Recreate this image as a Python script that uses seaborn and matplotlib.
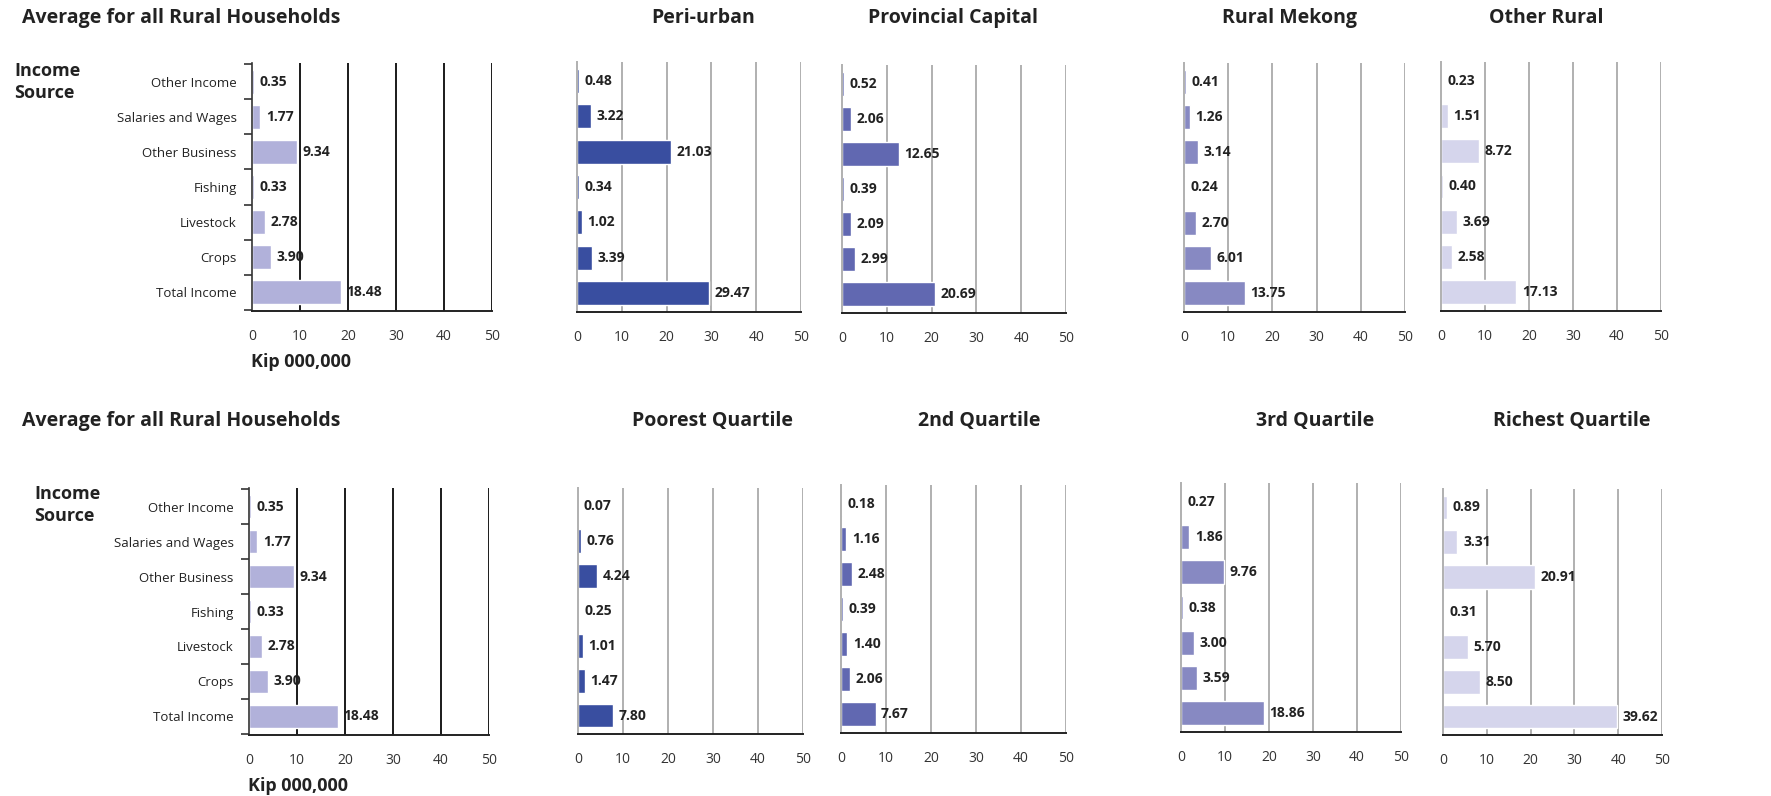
import numpy as np
import pandas as pd
import matplotlib
matplotlib.use("Agg")
import matplotlib.pyplot as plt
import seaborn as sns

# ---------------------------------------------------------
# DATA
# ---------------------------------------------------------
sources = ["Other Income", "Salaries and Wages", "Other Business", "Fishing",
           "Livestock", "Crops", "Total Income"]

avg_rural = [0.35, 1.77, 9.34, 0.33, 2.78, 3.90, 18.48]

peri_urban = [0.48, 3.22, 21.03, 0.34, 1.02, 3.39, 29.47]
prov_capital = [0.52, 2.06, 12.65, 0.39, 2.09, 2.99, 20.69]
rural_mekong = [0.41, 1.26, 3.14, 0.24, 2.70, 6.01, 13.75]
other_rural = [0.23, 1.51, 8.72, 0.40, 3.69, 2.58, 17.13]

q_poorest = [0.07, 0.76, 4.24, 0.25, 1.01, 1.47, 7.80]
q_second = [0.18, 1.16, 2.48, 0.39, 1.40, 2.06, 7.67]
q_third = [0.27, 1.86, 9.76, 0.38, 3.00, 3.59, 18.86]
q_richest = [0.89, 3.31, 20.91, 0.31, 5.70, 8.50, 39.62]

top_titles = ["Peri-urban", "Provincial Capital", "Rural Mekong", "Other Rural"]
bottom_titles = ["Poorest Quartile", "2nd Quartile", "3rd Quartile", "Richest Quartile"]
x_ticks = [0, 10, 20, 30, 40, 50]

# ---------------------------------------------------------
# STYLE
# ---------------------------------------------------------
sns.set_theme(style="white")
plt.rcParams["font.family"] = ["Open Sans", "DejaVu Sans"]

C_AVG = "#b1b1da"
COLORS = ["#394ea0", "#6168b1", "#8789c2", "#d5d5ec"]
TXT = "#222222"

W, H = 1771, 796
fig = plt.figure(figsize=(W / 100, H / 100), dpi=100)


def px_axes(x0, x1, y0, y1):
    return fig.add_axes([x0 / W, 1 - y1 / H, (x1 - x0) / W, (y1 - y0) / H])


def draw_panel(ax, values, color, is_avg):
    df = pd.DataFrame({"source": sources, "value": values})
    sns.barplot(data=df, x="value", y="source", orient="h", color=color,
                width=0.68, saturation=1, ax=ax, order=sources)
    ax.set_xlim(0, 50)
    ax.set_ylim(6.53, -0.53)
    ax.set_xticks(x_ticks)
    ax.set_xticklabels([str(t) for t in x_ticks], fontsize=10, color="#333333")
    ax.set_xlabel("")
    ax.set_ylabel("")
    grid_c = "#1a1a1a" if is_avg else "#b0b0b0"
    for t in x_ticks[1:]:
        ax.axvline(t, color=grid_c, lw=1.4, zorder=0)
    for side in ["top", "right"]:
        ax.spines[side].set_visible(False)
    ax.spines["bottom"].set_color("#222222")
    ax.spines["bottom"].set_linewidth(1.4)
    ax.tick_params(axis="x", direction="out", length=5, width=1.2,
                   color="#222222", pad=8)
    if is_avg:
        ax.spines["left"].set_color("#333333")
        ax.spines["left"].set_linewidth(1.2)
        ax.set_yticks(np.arange(-0.5, 7, 1.0))
        ax.set_yticklabels([])
        ax.tick_params(axis="y", which="major", direction="out", length=6,
                       width=1.2, color="#333333", left=True)
        ax.set_yticks(range(len(sources)), minor=True)
        ax.set_yticklabels(sources, minor=True, fontsize=9.5, color=TXT)
        ax.tick_params(axis="y", which="minor", length=0, pad=11)
    else:
        ax.spines["left"].set_color("#b0b0b0")
        ax.spines["left"].set_linewidth(1.4)
        ax.set_yticks([])
    for i, v in enumerate(values):
        ax.annotate(f"{v:.2f}", xy=(v, i), xytext=(4, 0), textcoords="offset points",
                    ha="left", va="center", fontsize=10, fontweight="bold", color=TXT)


# ---------------------------------------------------------
# TOP ROW: by region
# ---------------------------------------------------------
ax = px_axes(252, 492, 63, 311)
draw_panel(ax, avg_rural, C_AVG, True)
top_boxes = [(577, 801, 62, 312), (842, 1066, 65, 313),
             (1184, 1405, 63, 312), (1441, 1661, 62, 311)]
top_vals = [peri_urban, prov_capital, rural_mekong, other_rural]
for (x0, x1, y0, y1), vals, col in zip(top_boxes, top_vals, COLORS):
    draw_panel(px_axes(x0, x1, y0, y1), vals, col, False)

# ---------------------------------------------------------
# BOTTOM ROW: by income quartile
# ---------------------------------------------------------
ax = px_axes(249, 489, 488, 735)
draw_panel(ax, avg_rural, C_AVG, True)
bot_boxes = [(578, 803, 488, 734), (841, 1066, 485, 733),
             (1181, 1401, 483, 732), (1443, 1662, 489, 735)]
bot_vals = [q_poorest, q_second, q_third, q_richest]
for (x0, x1, y0, y1), vals, col in zip(bot_boxes, bot_vals, COLORS):
    draw_panel(px_axes(x0, x1, y0, y1), vals, col, False)

# ---------------------------------------------------------
# TEXT
# ---------------------------------------------------------
def ftext(x, y, s, **kw):
    fig.text(x / W, 1 - y / H, s, color=TXT, fontweight="bold", **kw)

ftext(22, 18, "Average for all Rural Households", fontsize=14, ha="left", va="center")
ftext(22, 421, "Average for all Rural Households", fontsize=14, ha="left", va="center")
for cx, t in zip([703, 953, 1289, 1546], top_titles):
    ftext(cx, 18, t, fontsize=14, ha="center", va="center")
for cx, t in zip([713, 979, 1315, 1572], bottom_titles):
    ftext(cx, 421, t, fontsize=14, ha="center", va="center")

ftext(14, 82, "Income\nSource", fontsize=13, ha="left", va="center", linespacing=1.3)
ftext(34, 505, "Income\nSource", fontsize=13, ha="left", va="center", linespacing=1.3)
ftext(251, 362, "Kip 000,000", fontsize=13, ha="left", va="center")
ftext(248, 786, "Kip 000,000", fontsize=13, ha="left", va="center")

fig.savefig("out.png", dpi=100)
